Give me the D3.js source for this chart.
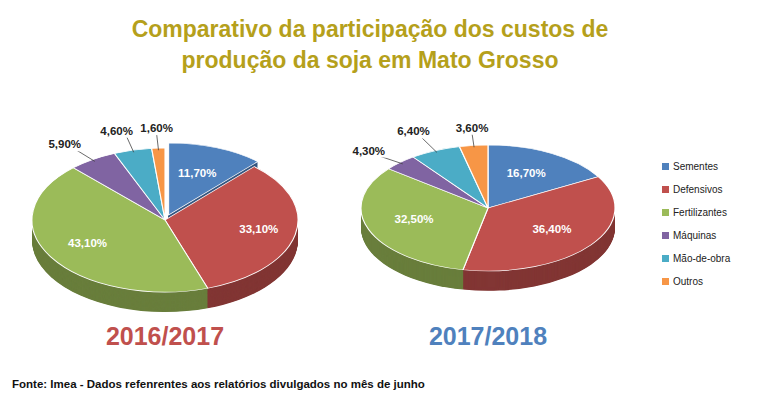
<!DOCTYPE html>
<html><head><meta charset="utf-8">
<script src="https://cdn.jsdelivr.net/npm/d3@7"></script>
<style>body{margin:0;background:#fff}text{font-family:"Liberation Sans",Arial,sans-serif}</style>
</head><body>
<svg id="c" width="768" height="400"></svg>
<script>
const categories=["Sementes","Defensivos","Fertilizantes","Máquinas","Mão-de-obra","Outros"];
const values2016=[11.7,33.1,43.1,5.9,4.6,1.6];
const values2017=[16.7,36.4,32.5,4.3,6.4,3.6];
const years=["2016/2017","2017/2018"];
const colors=["#4F81BD","#C0504D","#9BBB59","#8064A2","#4BACC6","#F79646"];
const svg=d3.select("#c");
svg.append("text").attr("x",370).attr("y",37).attr("text-anchor","middle").attr("fill","#B5A01B")
  .attr("font-size",23).attr("font-weight","bold").text("Comparativo da participação dos custos de");
svg.append("text").attr("x",370).attr("y",68).attr("text-anchor","middle").attr("fill","#B5A01B")
  .attr("font-size",23).attr("font-weight","bold").text("produção da soja em Mato Grosso");
const fmt=v=>v.toFixed(2).replace(".",",")+"%";
function pie3d(vals,cx,cy,rx,ry,depth,explode,lab){
  const k=ry/rx;
  const arcs=d3.pie().sort(null)(vals);
  const arc=d3.arc().innerRadius(0).outerRadius(rx);
  const g=svg.append("g").attr("transform",`translate(${cx},${cy}) scale(1,${k})`);
  const off=(d,i)=>{const e=i===0?explode:0;const a=(d.startAngle+d.endAngle)/2;return [Math.sin(a)*e,-Math.cos(a)*e];};
  for(let j=Math.round(depth/k);j>0;j-=1){
    g.selectAll(null).data(arcs).join("path").attr("d",arc)
      .attr("transform",(d,i)=>{const o=off(d,i);return `translate(${o[0]},${o[1]+j})`;})
      .attr("fill",(d,i)=>d3.color(colors[i]).darker(1.1));
  }
  g.selectAll(null).data(arcs).join("path").attr("d",arc)
    .attr("transform",(d,i)=>{const o=off(d,i);return `translate(${o[0]},${o[1]})`;})
    .attr("fill",(d,i)=>colors[i]).attr("stroke","#fff").attr("stroke-width",0.6/k);
  arcs.forEach((d,i)=>{
    const a=(d.startAngle+d.endAngle)/2, L=lab[i];
    const o=off(d,i);
    const px=cx+o[0]+Math.sin(a)*rx*L.r, py=cy+(o[1]-Math.cos(a)*rx*L.r)*k;
    const tx=px+(L.dx||0), ty=py+(L.dy||0);
    if(L.r>1){
      const ex=cx+Math.sin(a)*rx*0.97, ey=cy-Math.cos(a)*rx*0.97*k;
      svg.append("polyline").attr("points",`${ex},${ey} ${tx+(L.lx||0)},${ty+4}`).attr("fill","none").attr("stroke","#444").attr("stroke-width",0.8);
      svg.append("rect").attr("x",tx-(L.w||36)/2).attr("y",ty-10).attr("width",L.w||36).attr("height",15).attr("fill","#fff");
    }
    svg.append("text").attr("x",tx).attr("y",ty+2).attr("text-anchor","middle")
      .attr("fill",L.r>1?"#222":"#fff").attr("font-size",11.5).attr("font-weight","bold").text(fmt(vals[i]));
  });
}
pie3d(values2016,165,220,133,72,20,10,[
  {r:0.6},{r:0.72},{r:0.68},{r:1.22,dx:-12,lx:12},{r:1.25,dx:-8,lx:10,w:38},{r:1.25,dx:0,w:36}
]);
pie3d(values2017,488,208,127,63,20,0,[
  {r:0.6},{r:0.62},{r:0.62},{r:1.22,dx:-12,lx:12},{r:1.3,dx:-6,lx:8,w:38},{r:1.25,dx:2,w:36}
]);
svg.append("text").attr("x",165).attr("y",345).attr("text-anchor","middle").attr("fill","#C0504D")
  .attr("font-size",25).attr("font-weight","bold").text(years[0]);
svg.append("text").attr("x",488).attr("y",345).attr("text-anchor","middle").attr("fill","#4F81BD")
  .attr("font-size",25).attr("font-weight","bold").text(years[1]);
const lg=svg.append("g").attr("transform","translate(662,168)");
categories.forEach((c,i)=>{
  lg.append("rect").attr("x",0).attr("y",i*23-5).attr("width",7).attr("height",7).attr("fill",colors[i]);
  lg.append("text").attr("x",11).attr("y",i*23+2).attr("font-size",10).attr("fill","#222").text(c);
});
svg.append("text").attr("x",12).attr("y",388).attr("font-size",11.5).attr("font-weight","bold").attr("fill","#111")
  .text("Fonte: Imea - Dados refenrentes aos relatórios divulgados no mês de junho");
</script>
</body></html>
